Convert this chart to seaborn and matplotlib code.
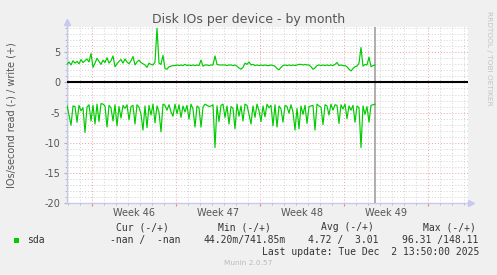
import numpy as np
import pandas as pd
import matplotlib
matplotlib.use("Agg")
import matplotlib.pyplot as plt
import matplotlib.dates as mdates
from matplotlib.ticker import MultipleLocator, NullFormatter
from matplotlib.patches import Rectangle
import seaborn as sns

# ---------------- data ----------------
title = "Disk IOs per device - by month"
ylabel = "IOs/second read (-) / write (+)"
series_name = "sda"
week_labels = ["Week 46", "Week 47", "Week 48", "Week 49"]
week_centers = ["2025-11-12 12:00", "2025-11-19 12:00", "2025-11-26 12:00", "2025-12-03 12:00"]
start_time = "2025-11-06 21:50"
now_time = "2025-12-02 13:50"
end_time = "2025-12-10 07:50"
sample_step = "4h"

# write (+) IOs/s
write_vals = [
    3.0, 3.4, 2.9, 3.6, 3.2, 3.5, 3.1, 3.8, 3.3, 3.6, 3.9, 3.4, 4.8, 2.5, 3.2, 4.0,
    3.5, 3.0, 3.7, 3.3, 4.1, 3.2, 3.6, 4.4, 2.6, 3.1, 3.5, 3.8, 3.2, 3.9, 3.4, 3.1,
    3.6, 4.3, 2.9, 3.4, 3.7, 3.3, 3.1,
    2.9, 2.5, 3.2, 3.0, 2.9, 3.4, 9.0, 3.2, 3.0, 4.5, 2.3, 2.2, 2.6, 2.7, 2.8, 2.8,
    2.9, 2.8, 2.9, 2.8, 3.0, 2.8, 2.9, 2.8, 2.9, 2.8, 2.9, 2.8, 3.7, 2.7, 2.9, 2.9,
    2.8, 2.9, 2.9, 4.4, 3.0, 2.9, 2.9,
    2.9, 2.9, 2.8, 2.9, 2.9, 2.8, 2.9, 2.7, 2.4, 2.2, 2.5, 3.2, 3.0, 3.4, 2.9, 3.0,
    2.8, 2.9, 2.8, 2.9, 2.8, 2.9, 2.8, 2.8, 2.9, 2.8, 2.7, 2.3, 2.1, 2.5, 2.8, 2.9,
    2.8, 2.9, 2.8, 2.9, 2.8, 2.9, 3.0,
    3.0, 2.9, 3.0, 2.9, 2.9, 2.6, 2.2, 2.4, 2.8, 2.9, 2.8, 2.9, 2.8, 2.9, 2.8, 2.9,
    2.8, 3.0, 3.3, 2.8, 2.9, 2.8, 2.8, 2.6, 2.2, 1.9, 2.3, 2.6, 2.7, 3.2, 5.8, 2.7,
    3.0, 2.9, 4.2, 2.6, 2.8, 2.9,
]

# read (-) IOs/s (drawn below zero)
read_vals = [
    3.8, 5.4, 7.1, 3.9, 4.0, 6.6, 3.8, 4.7, 4.2, 8.3, 4.1, 3.7, 6.4,
    3.8, 6.9, 3.6, 6.5, 3.5, 3.6, 3.9, 7.4, 3.8, 4.2, 6.4, 3.7, 7.2,
    4.0, 5.9, 3.8, 4.3, 3.7, 6.2, 4.0, 3.8, 6.9, 3.7, 4.1, 5.3, 7.9,
    3.9, 7.5, 3.8, 5.4, 3.6, 6.7, 3.9, 4.9, 8.2, 3.6, 3.8, 4.6, 3.7,
    4.9, 5.6, 3.6, 5.2, 3.7, 5.8, 3.9, 4.9, 3.8, 6.1, 3.6, 4.4, 7.4,
    3.9, 4.2, 7.4, 4.1, 3.6, 3.8, 4.0, 3.9, 3.7, 10.8, 3.9, 6.5, 3.8,
    3.6, 5.8, 3.9, 6.9, 4.0, 4.3, 7.7, 3.6, 5.6, 3.9, 6.4, 3.6, 3.8,
    5.3, 6.9, 3.9, 5.8, 3.6, 4.7, 6.5, 3.9, 5.7, 3.6, 4.2, 3.8, 7.2,
    3.7, 7.4, 3.9, 4.4, 6.6, 3.8, 4.0, 5.1, 3.7, 4.9, 7.9, 4.3, 7.7,
    3.9, 5.3, 3.8, 6.8, 4.0, 3.9, 3.8, 7.9, 3.6, 3.9, 4.1, 7.0, 3.7,
    3.9, 5.4, 3.6, 4.6, 3.7, 3.8, 6.8, 3.7, 4.4, 3.6, 6.0, 3.9, 4.6,
    3.8, 6.6, 3.9, 4.2, 10.8, 3.9, 5.3, 4.0, 6.6, 3.8, 3.7, 3.6,
]

legend_header = ["Cur (-/+)", "Min (-/+)", "Avg (-/+)", "Max (-/+)"]
legend_values = ["-nan /  -nan", "44.20m/741.85m", "4.72 /  3.01", "96.31 /148.11"]
last_update = "Last update: Tue Dec  2 13:50:00 2025"
footer = "Munin 2.0.57"
side_text = "RRDTOOL / TOBI OETIKER"

# ---------------- figure ----------------
plt.rcParams["axes.unicode_minus"] = False
W, H = 497, 275
BG = "#F0F0F0"
GREEN = "#00CC00"
AXISCOL = "#C8C8EE"

fig = plt.figure(figsize=(W / 100, H / 100), dpi=100, facecolor=BG)
ax = fig.add_axes([67 / W, 1 - 203 / H, 401 / W, 176 / H])
ax.set_facecolor("white")

times = pd.date_range(start_time, periods=len(write_vals), freq=sample_step)
df_w = pd.DataFrame({"time": times, "value": write_vals})
df_r = pd.DataFrame({"time": pd.date_range(start_time, periods=len(read_vals), freq=sample_step),
                     "value": [-v for v in read_vals]})

sns.lineplot(data=df_w, x="time", y="value", color=GREEN, linewidth=0.85, ax=ax, zorder=4)
sns.lineplot(data=df_r, x="time", y="value", color=GREEN, linewidth=0.85, ax=ax, zorder=4)

ax.set_xlim(pd.Timestamp(start_time), pd.Timestamp(end_time))
ax.set_ylim(-20, 9.2)
ax.set_xlabel("")
ax.set_ylabel("")

# grid
ax.set_axisbelow(True)
ax.xaxis.set_major_locator(mdates.WeekdayLocator(byweekday=mdates.SU))
ax.xaxis.set_minor_locator(mdates.DayLocator())
ax.xaxis.set_major_formatter(NullFormatter())
ax.xaxis.set_minor_formatter(NullFormatter())
ax.yaxis.set_major_locator(MultipleLocator(5))
ax.yaxis.set_minor_locator(MultipleLocator(1))
ax.grid(which="minor", color="#D2D2D2", linestyle=(0, (1, 2)), linewidth=0.7)
ax.grid(which="major", color="#F0A0A0", linestyle=(0, (1, 2)), linewidth=0.7)

ax.tick_params(axis="y", which="major", labelsize=7, labelcolor="#555555",
               length=2, color="#B0B0B0", pad=3)
ax.tick_params(axis="y", which="minor", length=1.5, color="#B0B0B0")
ax.tick_params(axis="x", which="major", length=2, color="#F08080")
ax.tick_params(axis="x", which="minor", length=1.5, color="#B0B0B0")

for s in ["top", "right"]:
    ax.spines[s].set_visible(False)
for s in ["left", "bottom"]:
    ax.spines[s].set_color(AXISCOL)
    ax.spines[s].set_linewidth(1.0)

# arrows on axes
ax.plot([0, 0], [1, 1.025], transform=ax.transAxes, color=AXISCOL, lw=1, clip_on=False)
ax.plot(0, 1.03, marker="^", transform=ax.transAxes, color=AXISCOL, ms=4, clip_on=False)
ax.plot([1, 1.005], [0, 0], transform=ax.transAxes, color=AXISCOL, lw=1, clip_on=False)
ax.plot(1.007, 0, marker=">", transform=ax.transAxes, color=AXISCOL, ms=4, clip_on=False)

# zero line and "now" line
ax.axhline(0, color="black", linewidth=1.5, zorder=5)
ax.axvline(pd.Timestamp(now_time), color="#999999", linewidth=1.1, zorder=3)

# week labels
for lab, c in zip(week_labels, week_centers):
    ax.text(mdates.date2num(pd.Timestamp(c)), -0.054, lab, transform=ax.get_xaxis_transform(),
            ha="center", va="center", fontsize=7, color="#555555")

# texts
fig.text(249 / W, 1 - 19 / H, title, ha="center", va="center", fontsize=9, color="#555555")
fig.text(12 / W, 1 - 115 / H, ylabel, ha="center", va="center", rotation=90,
         fontsize=7, color="#555555")
fig.text(489 / W, 1 - 58 / H, side_text, ha="center", va="center", rotation=270,
         fontsize=5.3, color="#C4C4C4")

mono = dict(family="DejaVu Sans Mono", fontsize=7, color="#333333", va="center")
header_x = [116, 218, 321, 423]
value_x = [110, 203, 308, 402]
for t, x in zip(legend_header, header_x):
    fig.text(x / W, 1 - 227 / H, t, ha="left", **mono)
for t, x in zip(legend_values, value_x):
    fig.text(x / W, 1 - 240 / H, t, ha="left", **mono)
fig.text(27 / W, 1 - 240 / H, series_name, ha="left", **mono)
fig.patches.append(Rectangle((14 / W, 1 - 243 / H), 5 / W, 5 / H, transform=fig.transFigure,
                             facecolor=GREEN, edgecolor="none", figure=fig))
fig.text(262 / W, 1 - 252 / H, last_update, ha="left", **mono)
fig.text(248 / W, 1 - 263 / H, footer, ha="center", va="center", fontsize=5.3, color="#BBBBBB")

fig.savefig("out.png", dpi=100, facecolor=BG)
